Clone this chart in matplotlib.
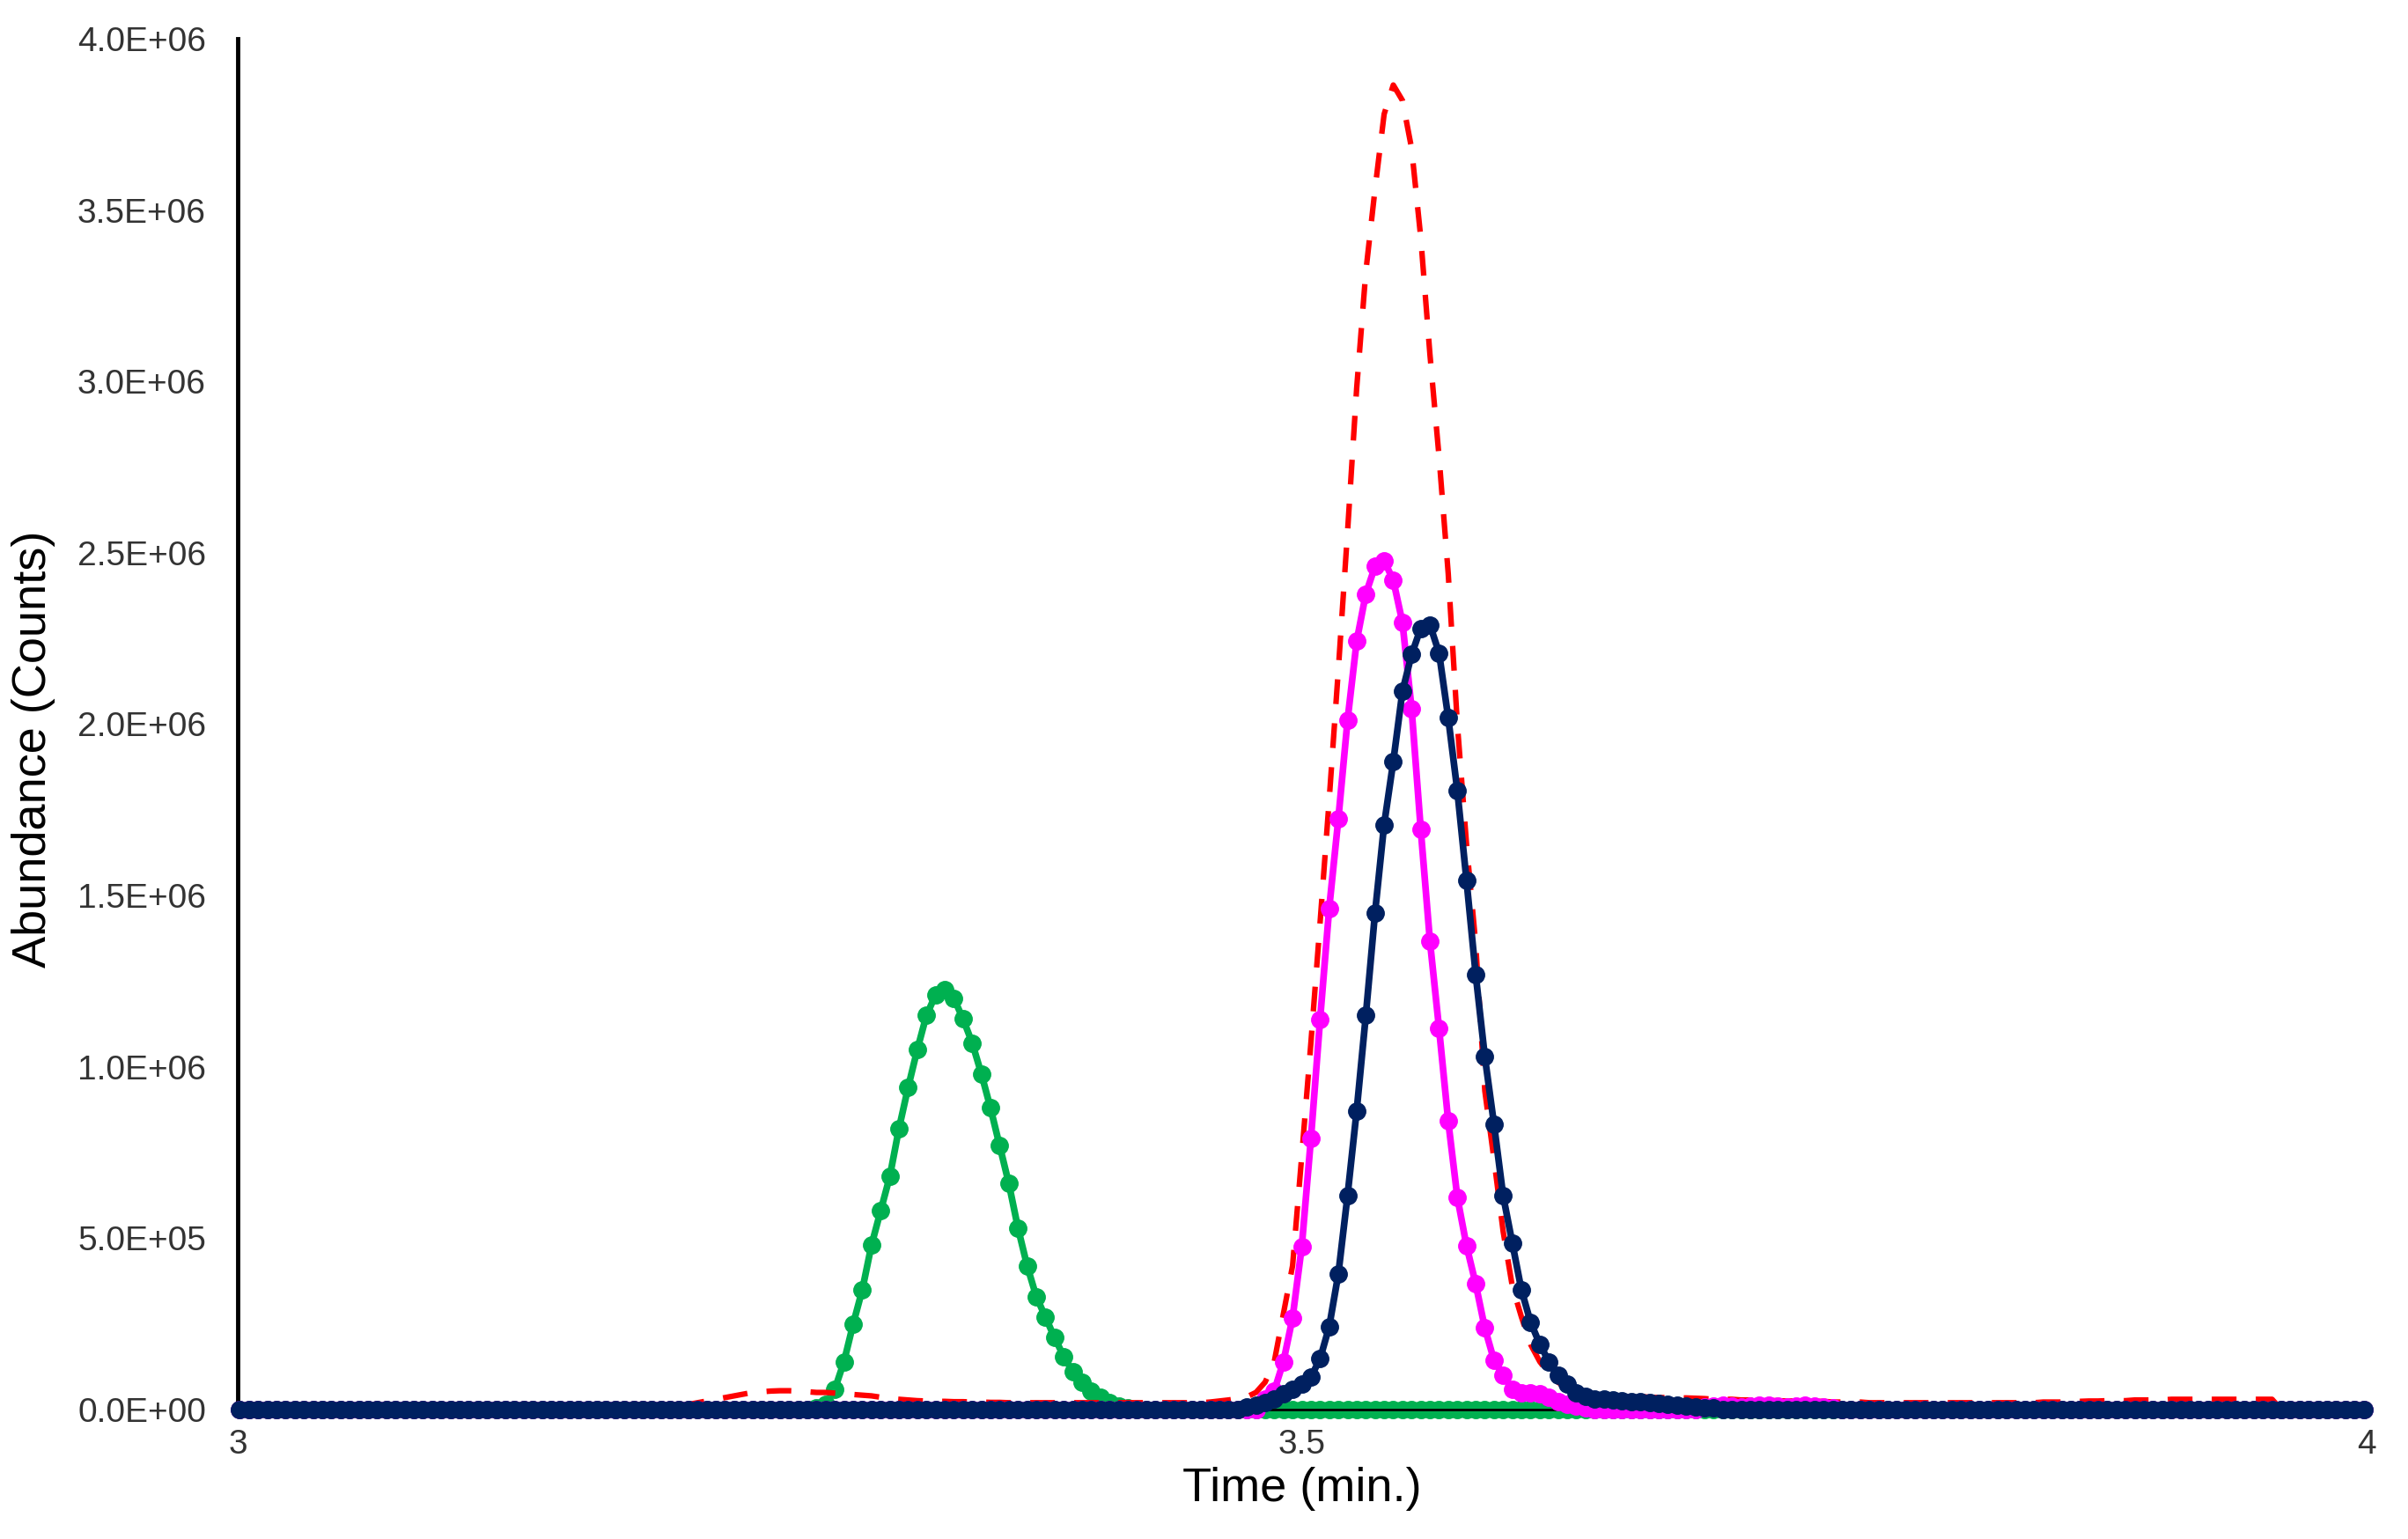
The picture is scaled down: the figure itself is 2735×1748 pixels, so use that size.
import numpy as np
import matplotlib
matplotlib.use("Agg")
import matplotlib.pyplot as plt
from matplotlib.ticker import MultipleLocator, FixedLocator, FuncFormatter

plt.rcParams['font.family'] = ['Liberation Sans', 'DejaVu Sans']

# scan grid (minutes)
scan_start = 3.001
scan_step = 0.0043
n_scans = 233

# abundances in millions of counts
# green trace: first nonzero scan and peak values
green_first = 63
green_peak = [0.005, 0.015, 0.06, 0.14, 0.25, 0.35, 0.48, 0.58, 0.68, 0.82,
              0.94, 1.05, 1.15, 1.21, 1.225, 1.20, 1.14, 1.07, 0.98, 0.88,
              0.77, 0.66, 0.53, 0.42, 0.33, 0.27, 0.21, 0.155, 0.11, 0.08,
              0.055, 0.035, 0.02, 0.01, 0.005]

# magenta trace
magenta_first = 112
magenta_peak = [0.03, 0.055, 0.14, 0.268, 0.475, 0.79, 1.137, 1.463, 1.724, 2.011,
                2.242, 2.38, 2.46, 2.477, 2.42, 2.297, 2.045, 1.693, 1.368, 1.112,
                0.842, 0.619, 0.478, 0.367, 0.238, 0.144, 0.101, 0.06, 0.048, 0.05,
                0.045, 0.035, 0.022, 0.015, 0.01, 0.005]
magenta_late_first = 160
magenta_late = [0.008, 0.01, 0.012, 0.01, 0.008, 0.01, 0.012, 0.012, 0.01, 0.008,
                0.01, 0.012, 0.01, 0.008, 0.006]

# navy trace
navy_first = 110
navy_peak = [0.008, 0.012, 0.02, 0.03, 0.045, 0.06, 0.075, 0.095, 0.148, 0.242,
             0.396, 0.624, 0.872, 1.150, 1.448, 1.707, 1.891, 2.096, 2.203, 2.28,
             2.29, 2.208, 2.019, 1.805, 1.544, 1.270, 1.030, 0.833, 0.624, 0.486,
             0.349, 0.255, 0.191, 0.140, 0.10, 0.075, 0.05, 0.038, 0.032, 0.03,
             0.028, 0.026, 0.024, 0.022, 0.02, 0.018, 0.015, 0.012, 0.01, 0.008,
             0.006, 0.005]

# red dashed trace
red_first = 46
red_peak = [0.005, 0.008, 0.01, 0.015, 0.02, 0.025, 0.03, 0.035, 0.04, 0.045,
            0.05, 0.052, 0.054, 0.055, 0.055, 0.054, 0.052, 0.05, 0.05, 0.048,
            0.046, 0.044, 0.042, 0.04, 0.036, 0.032, 0.03, 0.028, 0.026, 0.025,
            0.024, 0.024, 0.023, 0.023, 0.022, 0.022, 0.021, 0.021, 0.02, 0.02,
            0.02, 0.02, 0.02, 0.02, 0.02, 0.02, 0.02, 0.02, 0.02, 0.02,
            0.02, 0.02, 0.02, 0.02, 0.02, 0.02, 0.02, 0.02, 0.02, 0.02,
            0.022, 0.025, 0.028, 0.032, 0.037, 0.05, 0.08, 0.14, 0.28, 0.42,
            0.74, 1.07, 1.42, 1.78, 2.16, 2.56, 2.98, 3.32, 3.56, 3.78,
            3.865, 3.82, 3.68, 3.42, 3.08, 2.78, 2.44, 2.0, 1.65, 1.36,
            0.93, 0.73, 0.52, 0.36, 0.27, 0.19, 0.14, 0.105, 0.08, 0.06,
            0.05, 0.045, 0.044, 0.042, 0.04, 0.04, 0.038, 0.038, 0.036, 0.035,
            0.035, 0.034, 0.034, 0.033, 0.032, 0.03, 0.03, 0.03, 0.028, 0.028,
            0.028, 0.026, 0.026, 0.025, 0.025, 0.024, 0.024, 0.024, 0.022, 0.022,
            0.022, 0.022, 0.02, 0.02, 0.02, 0.02, 0.02, 0.02, 0.02, 0.02,
            0.02, 0.02, 0.02, 0.02, 0.02, 0.02, 0.02, 0.02, 0.02, 0.02,
            0.02, 0.022, 0.022, 0.022, 0.024, 0.024, 0.025, 0.025, 0.026, 0.026,
            0.026, 0.028, 0.028, 0.028, 0.028, 0.03, 0.03, 0.03, 0.03, 0.03,
            0.03, 0.03, 0.03, 0.03, 0.03, 0.03, 0.03]

x_major = [3.0, 3.5, 4.0]
y_ticks = [0, 0.5e6, 1.0e6, 1.5e6, 2.0e6, 2.5e6, 3.0e6, 3.5e6, 4.0e6]

time = scan_start + scan_step * np.arange(n_scans)


def trace(first, values):
    out = np.zeros(n_scans)
    out[first:first + len(values)] = values
    return out * 1e6


green = trace(green_first, green_peak)
magenta = trace(magenta_first, magenta_peak) + trace(magenta_late_first, magenta_late)
navy = trace(navy_first, navy_peak)
red = trace(red_first, red_peak)

fig = plt.figure(figsize=(27.35, 17.48), dpi=100)
ax = fig.add_axes([270 / 2735, 1 - 1601 / 1748, 2418 / 2735, 1557 / 1748])

ax.plot(time, green, color='#00B050', lw=5.5, marker='o', ms=14, clip_on=False, zorder=2)
ax.plot(time, red, color='#FF0000', lw=4.5, dashes=(4.5, 3.5), clip_on=False, zorder=3)
ax.plot(time, magenta, color='#FF00FF', lw=5.5, marker='o', ms=14, clip_on=False, zorder=4)
ax.plot(time, navy, color='#002060', lw=5.5, marker='o', ms=14, clip_on=False, zorder=5)

ax.set_xlim(3, 4)
ax.set_ylim(0, 4e6)

ax.xaxis.set_major_locator(FixedLocator(x_major))
ax.xaxis.set_minor_locator(MultipleLocator(0.1))
ax.xaxis.set_major_formatter(FuncFormatter(lambda v, p: '%g' % v))
ax.set_yticks(y_ticks)
ax.yaxis.set_major_formatter(FuncFormatter(lambda v, p: '%.1E' % v))

ax.tick_params(axis='x', which='major', direction='out', length=7, width=3,
               labelsize=28, labelcolor='#333333', pad=9)
ax.tick_params(axis='x', which='minor', direction='out', length=5, width=3)
ax.tick_params(axis='y', length=0, labelsize=28, labelcolor='#333333', pad=26)

for side in ['top', 'right']:
    ax.spines[side].set_visible(False)
ax.spines['left'].set_linewidth(3.5)
ax.spines['bottom'].set_linewidth(2)

ax.set_xlabel('Time (min.)', fontsize=39)
ax.set_ylabel('Abundance (Counts)', fontsize=39)
ax.xaxis.label.set_va('center')
ax.yaxis.label.set_va('center')
ax.xaxis.set_label_coords(0.5, -0.058)
ax.yaxis.set_label_coords(-0.096, 0.482)

fig.savefig('out.png', dpi=100)
